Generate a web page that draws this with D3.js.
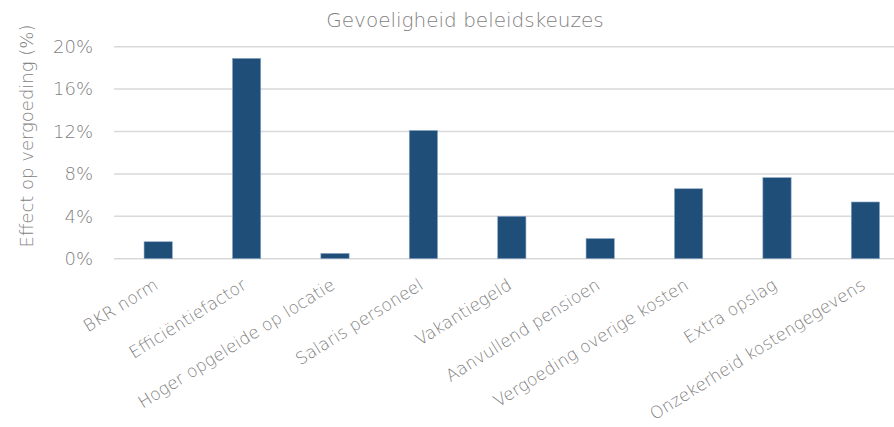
<!DOCTYPE html>
<html>
<head>
<meta charset="utf-8">
<script src="https://cdn.jsdelivr.net/npm/d3@7"></script>
<style>
  body { margin: 0; background: #fff; }
  text { font-family: "DejaVu Sans", Verdana, sans-serif; fill: #7f7f7f; }
</style>
</head>
<body>
<div id="chart"></div>
<script>
const categories = ["BKR norm", "Efficiëntiefactor", "Hoger opgeleide op locatie", "Salaris personeel",
  "Vakantiegeld", "Aanvullend pensioen", "Vergoeding overige kosten", "Extra opslag", "Onzekerheid kostengegevens"];
const values = [1.6, 18.9, 0.5, 12.1, 4.0, 1.9, 6.6, 7.65, 5.35];
const yTicks = [0, 4, 8, 12, 16, 20];

const width = 894, height = 427;
const svg = d3.select("#chart").append("svg")
  .attr("width", width)
  .attr("height", height);

// plot runs past the right edge, like the original
const x = d3.scaleBand().domain(categories).range([114, 909.6]).paddingInner(0.68).paddingOuter(0.34);
const y = d3.scaleLinear().domain([0, 20]).range([258.7, 46.7]);

// gridlines
svg.selectAll(".grid")
  .data(yTicks)
  .enter()
  .append("line")
  .attr("x1", 114)
  .attr("x2", width)
  .attr("y1", d => y(d))
  .attr("y2", d => y(d))
  .attr("stroke", "#d9d9d9")
  .attr("stroke-width", 1.5);

// y tick labels
svg.selectAll(".ytick")
  .data(yTicks)
  .enter()
  .append("text")
  .attr("x", 93)
  .attr("y", d => y(d))
  .attr("dy", "0.35em")
  .attr("text-anchor", "end")
  .style("font-size", "18px")
  .style("font-weight", 200)
  .text(d => d + "%");

// bars
svg.selectAll(".bar")
  .data(values)
  .enter()
  .append("rect")
  .attr("x", (d, i) => x(categories[i]))
  .attr("y", d => y(d))
  .attr("width", x.bandwidth())
  .attr("height", d => y(0) - y(d))
  .attr("fill", "#1f4e79")
  .attr("stroke", "#8ea9c8")
  .attr("stroke-width", 0.6);

// x labels, rotated
svg.selectAll(".xlabel")
  .data(categories)
  .enter()
  .append("text")
  .attr("transform", d => `translate(${x(d) + x.bandwidth() / 2 + 1},${288}) rotate(-32)`)
  .attr("text-anchor", "end")
  .style("font-size", "17px")
  .style("font-weight", 200)
  .text(d => d);

// title
svg.append("text")
  .attr("x", 465)
  .attr("y", 27)
  .attr("text-anchor", "middle")
  .style("font-size", "20px")
  .style("font-weight", 200)
  .text("Gevoeligheid beleidskeuzes");

// y axis title
svg.append("text")
  .attr("transform", "translate(33,136) rotate(-90)")
  .attr("text-anchor", "middle")
  .style("font-size", "18px")
  .style("font-weight", 200)
  .text("Effect op vergoeding (%)");
</script>
</body>
</html>
